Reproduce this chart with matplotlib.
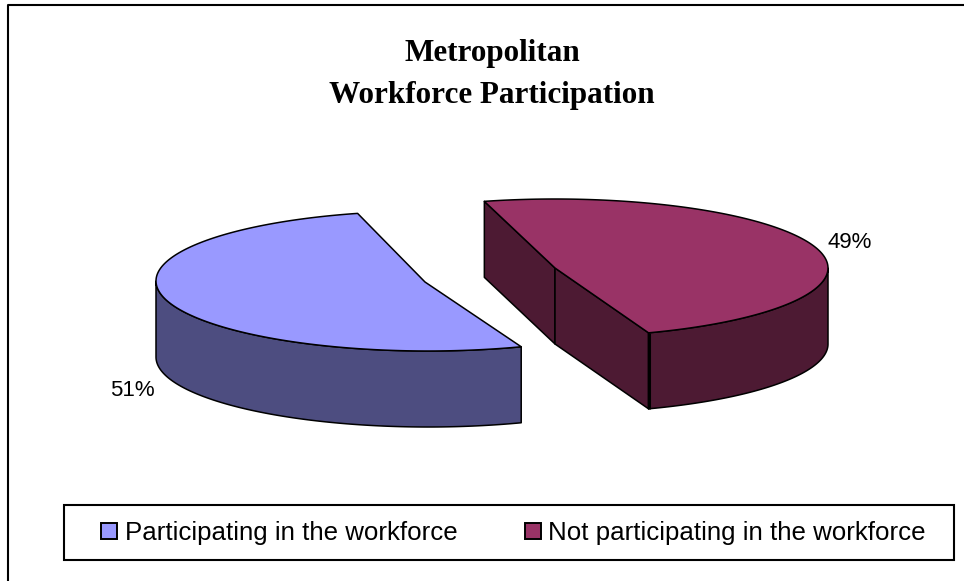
import numpy as np
import matplotlib
matplotlib.use("Agg")
import matplotlib.pyplot as plt
from matplotlib.patches import Polygon, Patch, Rectangle

title_lines = ["Metropolitan", "Workforce Participation"]
categories = ["Participating in the workforce", "Not participating in the workforce"]
values = [51.4, 48.6]
labels = ["51%", "49%"]
top_colors = ["#9999FF", "#993366"]
side_colors = ["#4D4D80", "#4D1A33"]

START = 105.0
A, B = [272, 273], [70, 69]
CX, CY = [428, 555], [281, 268]
APEX = [(425, 282), (555, 268)]
DEPTH = 76

fig = plt.figure(figsize=(9.64, 5.81), dpi=100)
ax = fig.add_axes([0, 0, 1, 1])
ax.set_xlim(0, 964)
ax.set_ylim(581, 0)
ax.axis("off")

ax.plot([7.5, 7.5, 964], [581, 4.5, 4.5], color="black", lw=1.5, solid_capstyle="butt")

LW = 1.1


def rim(i, t0, t1):
    t = np.radians(np.linspace(t0, t1, 160))
    return np.column_stack([CX[i] + A[i] * np.cos(t), CY[i] - B[i] * np.sin(t)])


total = sum(values)
a0 = START
spans = []
for v in values:
    a1 = a0 + 360 * v / total
    spans.append((a0, a1))
    a0 = a1


def add_face(pts, color, z=2):
    ax.add_patch(Polygon(pts, closed=True, facecolor=color, edgecolor="black", lw=LW,
                         joinstyle="round", zorder=z))


drop = np.array([0, DEPTH])

# blue slice: outer wall, then top
s0, s1 = spans[0]
r = rim(0, 180, s1)
add_face(np.vstack([r, (r + drop)[::-1]]), side_colors[0])
r = rim(0, s0, s1)
add_face(np.vstack([[APEX[0]], r]), top_colors[0], 3)

# red slice: cut faces, outer wall, then top
s0, s1 = spans[1]
apex = np.array(APEX[1], float)
r = rim(1, s0, s1)
p_start, p_end = r[0], r[-1]
add_face(np.array([p_end, apex, apex + drop, p_end + drop]), side_colors[1])
add_face(np.array([apex, p_start, p_start + drop, apex + drop]), side_colors[1])
r = rim(1, s0, 360)
add_face(np.vstack([r, (r + drop)[::-1]]), side_colors[1])
r = rim(1, s0, s1)
add_face(np.vstack([[apex], r]), top_colors[1], 3)
ax.plot([p_start[0]] * 2, [p_start[1], p_start[1] + DEPTH], color="black", lw=2.2,
        solid_capstyle="butt", zorder=4)

ax.text(492, 54, title_lines[0], family="Liberation Serif", weight="bold", fontsize=22.4,
        ha="center", va="center")
ax.text(492, 96, title_lines[1], family="Liberation Serif", weight="bold", fontsize=22.4,
        ha="center", va="center")

ax.text(132, 390, labels[0], family="Liberation Sans", fontsize=16, ha="center", va="center")
ax.text(850, 243, labels[1], family="Liberation Sans", fontsize=16, ha="center", va="center")

ax.add_patch(Rectangle((64, 505), 890, 55, facecolor="white", edgecolor="black", lw=1.5, zorder=5))
handles = [Patch(facecolor=c, edgecolor="black", lw=1.4) for c in top_colors]
leg = ax.legend(handles, categories, ncol=2,
                bbox_to_anchor=(101, 533), bbox_transform=ax.transData,
                loc="center left", prop={"family": "Liberation Sans", "size": 18.6},
                frameon=False, handlelength=0.62, handleheight=0.62, handletextpad=0.3,
                columnspacing=2.6, borderaxespad=0, borderpad=0)
leg.set_zorder(6)

fig.savefig("out.png", dpi=100)
